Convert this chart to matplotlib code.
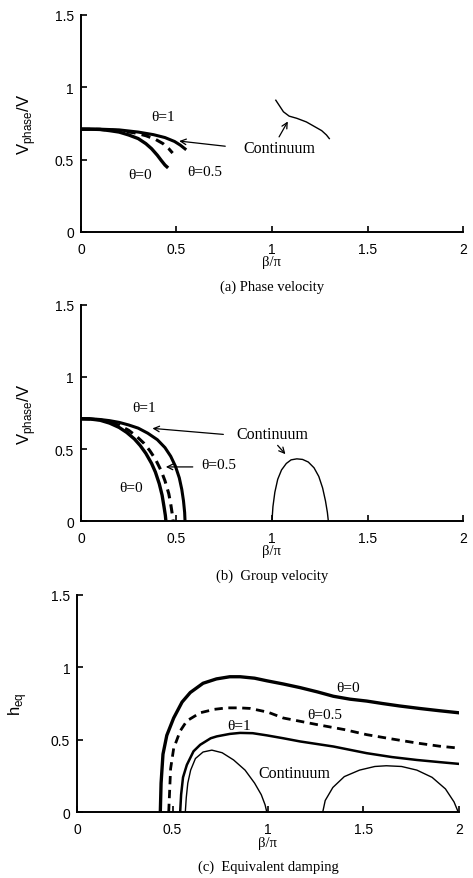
import matplotlib
matplotlib.use("Agg")
import matplotlib.pyplot as plt

# ---------------- data ----------------
# (a) phase velocity
a_t0_x = [0.0, 0.05, 0.10, 0.15, 0.20, 0.25, 0.30, 0.34, 0.37, 0.40, 0.42, 0.44, 0.45]
a_t0_y = [0.71, 0.71, 0.708, 0.70, 0.69, 0.67, 0.645, 0.61, 0.575, 0.53, 0.495, 0.462, 0.45]
a_t05_x = [0.0, 0.10, 0.20, 0.28, 0.34, 0.39, 0.43, 0.46, 0.48]
a_t05_y = [0.71, 0.708, 0.70, 0.685, 0.665, 0.64, 0.61, 0.575, 0.545]
a_t1_x = [0.0, 0.10, 0.20, 0.30, 0.38, 0.44, 0.49, 0.52, 0.545]
a_t1_y = [0.71, 0.71, 0.705, 0.69, 0.672, 0.652, 0.625, 0.60, 0.574]
a_cont_x = [1.02, 1.04, 1.06, 1.09, 1.13, 1.18, 1.22, 1.26, 1.285, 1.30]
a_cont_y = [0.91, 0.87, 0.83, 0.80, 0.785, 0.76, 0.73, 0.70, 0.67, 0.645]

# (b) group velocity
b_t0_x = [0.0, 0.05, 0.10, 0.15, 0.20, 0.24, 0.28, 0.31, 0.34, 0.37, 0.39, 0.41, 0.425, 0.435, 0.442, 0.445]
b_t0_y = [0.71, 0.708, 0.70, 0.68, 0.65, 0.615, 0.57, 0.525, 0.47, 0.40, 0.34, 0.26, 0.18, 0.10, 0.04, 0.0]
b_t05_x = [0.0, 0.05, 0.10, 0.15, 0.20, 0.25, 0.29, 0.33, 0.36, 0.39, 0.42, 0.44, 0.46, 0.47, 0.478, 0.483]
b_t05_y = [0.71, 0.709, 0.703, 0.688, 0.665, 0.63, 0.59, 0.54, 0.49, 0.43, 0.35, 0.28, 0.19, 0.12, 0.05, 0.0]
b_t1_x = [0.0, 0.05, 0.10, 0.15, 0.20, 0.25, 0.30, 0.35, 0.40, 0.44, 0.47, 0.495, 0.515, 0.528, 0.537, 0.543, 0.545]
b_t1_y = [0.71, 0.71, 0.705, 0.697, 0.685, 0.667, 0.645, 0.61, 0.565, 0.51, 0.45, 0.38, 0.30, 0.22, 0.14, 0.06, 0.0]
b_cont_x = [1.0, 1.005, 1.015, 1.03, 1.05, 1.075, 1.10, 1.13, 1.16, 1.19, 1.22, 1.245, 1.265, 1.28, 1.29, 1.295]
b_cont_y = [0.0, 0.10, 0.20, 0.29, 0.355, 0.40, 0.425, 0.432, 0.428, 0.41, 0.37, 0.31, 0.23, 0.14, 0.06, 0.0]

# (c) equivalent damping
c_t0_x = [0.436, 0.44, 0.45, 0.47, 0.506, 0.55, 0.593, 0.66, 0.73, 0.80, 0.854, 0.93, 0.994, 1.08, 1.168, 1.26, 1.343, 1.43, 1.517, 1.60, 1.69, 1.80, 1.90, 2.0]
c_t0_y = [0.0, 0.20, 0.40, 0.53, 0.65, 0.76, 0.826, 0.89, 0.92, 0.935, 0.935, 0.925, 0.907, 0.885, 0.86, 0.83, 0.80, 0.78, 0.767, 0.75, 0.733, 0.715, 0.70, 0.686]
c_t05_x = [0.48, 0.485, 0.49, 0.506, 0.54, 0.575, 0.645, 0.72, 0.785, 0.85, 0.907, 1.0, 1.08, 1.255, 1.40, 1.517, 1.65, 1.78, 1.90, 2.0]
c_t05_y = [0.0, 0.15, 0.30, 0.44, 0.56, 0.63, 0.686, 0.71, 0.72, 0.72, 0.716, 0.69, 0.65, 0.605, 0.57, 0.535, 0.505, 0.477, 0.455, 0.442]
c_t1_x = [0.54, 0.545, 0.555, 0.575, 0.61, 0.645, 0.70, 0.732, 0.80, 0.854, 0.92, 0.994, 1.08, 1.168, 1.343, 1.517, 1.65, 1.78, 1.90, 2.0]
c_t1_y = [0.0, 0.12, 0.24, 0.326, 0.42, 0.465, 0.51, 0.523, 0.54, 0.547, 0.545, 0.53, 0.51, 0.488, 0.453, 0.407, 0.38, 0.36, 0.345, 0.333]
c_cont1_x = [0.567, 0.572, 0.58, 0.595, 0.62, 0.66, 0.706, 0.76, 0.82, 0.88, 0.93, 0.965, 0.985, 0.994]
c_cont1_y = [0.0, 0.10, 0.20, 0.29, 0.37, 0.415, 0.428, 0.41, 0.36, 0.29, 0.20, 0.12, 0.05, 0.0]
c_cont2_x = [1.287, 1.30, 1.34, 1.40, 1.48, 1.56, 1.62, 1.70, 1.78, 1.86, 1.93, 1.975, 1.997]
c_cont2_y = [0.0, 0.08, 0.17, 0.245, 0.29, 0.315, 0.32, 0.315, 0.29, 0.24, 0.16, 0.07, 0.0]

xticks = [0, 0.5, 1, 1.5, 2]
yticks = [0, 0.5, 1, 1.5]
xtick_labels = ["0", "0.5", "1", "1.5", "2"]
ytick_labels = ["0", "0.5", "1", "1.5"]

SANS = "Liberation Sans"
SERIF = "Liberation Serif"

fig = plt.figure(figsize=(4.73, 8.79), dpi=100)


def style(ax, ylabel, caption, ylab_x):
    ax.set_xlim(0, 2)
    ax.set_ylim(0, 1.5)
    ax.set_xticks(xticks)
    ax.set_xticklabels(xtick_labels, fontfamily=SANS, fontsize=10)
    ax.set_yticks(yticks)
    ax.set_yticklabels(ytick_labels, fontfamily=SANS, fontsize=10)
    ax.tick_params(axis="y", direction="in", length=4, width=1.2, pad=5)
    ax.tick_params(axis="x", direction="in", length=4, width=1.2, pad=7)
    for s in ["top", "right"]:
        ax.spines[s].set_visible(False)
    for s in ["left", "bottom"]:
        ax.spines[s].set_linewidth(1.4)
    ax.text(0.5, -0.138, "β/π", transform=ax.transAxes, ha="center",
            va="center", fontfamily=SERIF, fontsize=10.5)
    ax.set_ylabel(ylabel, fontsize=12, fontfamily=SANS)
    ax.yaxis.set_label_coords(ylab_x, 0.5)
    ax.text(0.5, -0.249, caption, transform=ax.transAxes, ha="center",
            va="center", fontfamily=SERIF, fontsize=10.5)


lab = dict(fontfamily=SERIF, fontsize=11, ha="center", va="center")
labc = dict(fontfamily=SERIF, fontsize=11.5, ha="center", va="center")
arr = dict(arrowstyle="->", lw=0.9, color="black", mutation_scale=10)

# (a)
ax1 = fig.add_axes([0.171, 0.735, 0.808, 0.247])
ax1.plot(a_t0_x, a_t0_y, color="black", lw=2.4)
ax1.plot(a_t05_x, a_t05_y, color="black", lw=2.2, ls=(0, (3, 2)))
ax1.plot(a_t1_x, a_t1_y, color="black", lw=2.2)
ax1.plot(a_cont_x, a_cont_y, color="black", lw=1.0)
ax1.annotate("", xy=(0.50, 0.63), xytext=(0.77, 0.59), arrowprops=arr)
ax1.annotate("", xy=(1.09, 0.78), xytext=(1.03, 0.64), arrowprops=arr)
ax1.text(0.43, 0.80, "θ=1", **lab)
ax1.text(0.31, 0.40, "θ=0", **lab)
ax1.text(0.65, 0.42, "θ=0.5", **lab)
ax1.text(1.04, 0.58, "Continuum", **labc)
style(ax1, r"V$_{\mathregular{phase}}$/V", "(a) Phase velocity", -0.113)

# (b)
ax2 = fig.add_axes([0.171, 0.406, 0.808, 0.246])
ax2.plot(b_t0_x, b_t0_y, color="black", lw=2.4)
ax2.plot(b_t05_x, b_t05_y, color="black", lw=2.2, ls=(0, (3, 2)))
ax2.plot(b_t1_x, b_t1_y, color="black", lw=2.2)
ax2.plot(b_cont_x, b_cont_y, color="black", lw=1.0)
ax2.annotate("", xy=(0.36, 0.645), xytext=(0.76, 0.60), arrowprops=arr)
ax2.annotate("", xy=(1.08, 0.45), xytext=(1.02, 0.54), arrowprops=arr)
ax2.annotate("", xy=(0.43, 0.376), xytext=(0.60, 0.376), arrowprops=arr)
ax2.text(0.33, 0.79, "θ=1", **lab)
ax2.text(0.72, 0.39, "θ=0.5", **lab)
ax2.text(0.26, 0.23, "θ=0", **lab)
ax2.text(1.0, 0.605, "Continuum", **labc)
style(ax2, r"V$_{\mathregular{phase}}$/V", "(b)  Group velocity", -0.113)

# (c)
ax3 = fig.add_axes([0.163, 0.075, 0.807, 0.247])
ax3.plot(c_t0_x, c_t0_y, color="black", lw=2.4)
ax3.plot(c_t05_x, c_t05_y, color="black", lw=2.0, ls=(0, (3, 2)))
ax3.plot(c_t1_x, c_t1_y, color="black", lw=1.8)
ax3.plot(c_cont1_x, c_cont1_y, color="black", lw=1.0)
ax3.plot(c_cont2_x, c_cont2_y, color="black", lw=1.0)
ax3.text(1.42, 0.86, "θ=0", **lab)
ax3.text(1.30, 0.675, "θ=0.5", **lab)
ax3.text(0.85, 0.595, "θ=1", **lab)
ax3.text(1.14, 0.27, "Continuum", **labc)
style(ax3, r"h$_{\mathregular{eq}}$", "(c)  Equivalent damping", -0.125)

fig.savefig("out.png", dpi=100)
